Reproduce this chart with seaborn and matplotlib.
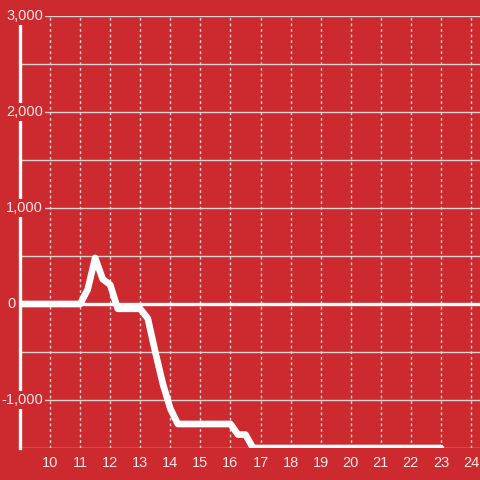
import matplotlib
matplotlib.use("Agg")
import matplotlib.pyplot as plt
import seaborn as sns

# balance curve
hours = [9, 11, 11.25, 11.5, 11.75, 12, 12.25, 13, 13.25, 13.5, 13.75, 14, 14.25,
         16, 16.25, 16.5, 16.75, 23]
values = [0, 0, 150, 480, 260, 200, -50, -50, -150, -500, -830, -1090, -1250,
          -1250, -1360, -1360, -1500, -1500]

x_ticks = list(range(10, 25))
y_labels = [3000, 2000, 1000, 0, -1000]

BG = "#cc2a2e"
GRID = "#d9d4d4"
TXT = "#f6e8e8"

sns.set_style("white")
plt.rcParams["font.family"] = ["Liberation Sans", "DejaVu Sans"]

fig = plt.figure(figsize=(4.8, 4.8), dpi=100, facecolor=BG)
ax = fig.add_axes([20 / 480, 32 / 480, 460 / 480, 432 / 480])
ax.set_facecolor(BG)

sns.lineplot(x=hours, y=values, ax=ax, color="white", linewidth=4.8, zorder=5)

ax.set_xlim(9, 24.3)
ax.set_ylim(-1500, 3000)

ax.set_xticks(x_ticks)
ax.set_xticklabels([str(h) for h in x_ticks])
ax.set_yticks(range(-1500, 3001, 500))
ax.set_yticklabels([])
ax.tick_params(axis="x", length=0, pad=6, labelcolor=TXT, labelsize=10.5)
ax.tick_params(axis="y", length=0)

ax.grid(axis="y", color=GRID, linewidth=1, linestyle="-")
ax.grid(axis="x", color=GRID, linewidth=1, linestyle=(0, (2, 2)))

ax.axhline(0, color="white", linewidth=2.4, zorder=4)

for side in ["top", "right", "bottom"]:
    ax.spines[side].set_visible(False)
ax.spines["left"].set_color("white")
ax.spines["left"].set_linewidth(2.4)
ax.spines["left"].set_zorder(3)

for v in y_labels:
    if v == 0:
        xpos, ha = -0.018, "center"
    else:
        xpos, ha = 0.05, "right"
    ax.text(xpos, v, f"{v:,}", transform=ax.get_yaxis_transform(),
            ha=ha, va="center", color=TXT, fontsize=10.5, zorder=6,
            clip_on=False,
            bbox=dict(facecolor=BG, edgecolor="none", pad=1.5))

fig.savefig("out.png", dpi=100, facecolor=BG)
